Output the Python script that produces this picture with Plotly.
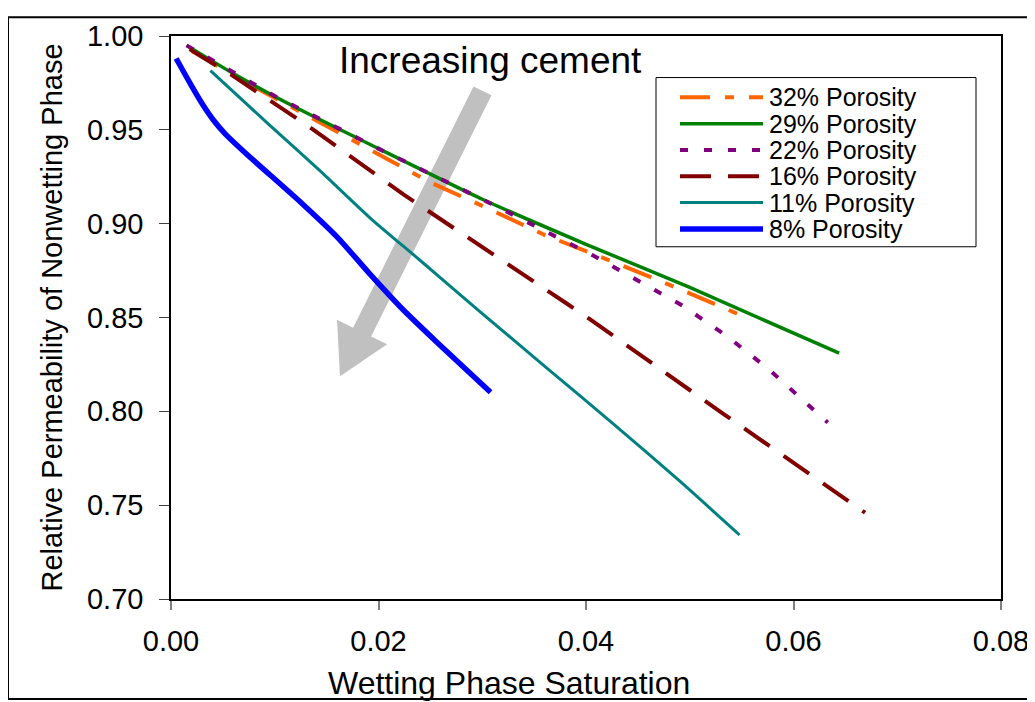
import plotly.graph_objects as go

# ---------------- data ----------------
x_range = [0.0, 0.08]
y_range = [0.70, 1.00]
x_ticks = [0.00, 0.02, 0.04, 0.06, 0.08]
y_ticks = [0.70, 0.75, 0.80, 0.85, 0.90, 0.95, 1.00]

x_title = "Wetting Phase Saturation"
y_title = "Relative Permeability of Nonwetting Phase"
arrow_label = "Increasing cement"

series_names = ["32% Porosity", "29% Porosity", "22% Porosity",
                "16% Porosity", "11% Porosity", "8% Porosity"]

sw_32 = [0.002, 0.008, 0.014, 0.020, 0.025, 0.030, 0.036, 0.042, 0.048, 0.0546]
kr_32 = [0.992, 0.973, 0.955, 0.937, 0.922, 0.9095, 0.894, 0.881, 0.8675, 0.852]

sw_29 = [0.0015, 0.006, 0.012, 0.020, 0.030, 0.040, 0.050, 0.0644]
kr_29 = [0.995, 0.980, 0.962, 0.940, 0.913, 0.889, 0.866, 0.831]

sw_22 = [0.0015, 0.010, 0.020, 0.030, 0.0407, 0.0452, 0.0494, 0.0536, 0.0577, 0.0633]
kr_22 = [0.995, 0.968, 0.940, 0.913, 0.883, 0.869, 0.856, 0.840, 0.822, 0.794]

sw_16 = [0.0018, 0.0059, 0.0131, 0.0224, 0.0381, 0.0404, 0.0532, 0.0555, 0.0669]
kr_16 = [0.993, 0.979, 0.9525, 0.9156, 0.8576, 0.849, 0.7988, 0.790, 0.746]

sw_11 = [0.0038, 0.0095, 0.0144, 0.0192, 0.0240, 0.0298, 0.0362, 0.0426, 0.0491, 0.0548]
kr_11 = [0.9815, 0.9525, 0.9280, 0.9030, 0.8805, 0.8530, 0.8232, 0.7935, 0.7625, 0.7341]

sw_8 = [0.0005, 0.0018, 0.0031, 0.0041, 0.0052, 0.0073, 0.0095, 0.0127,
        0.0160, 0.0192, 0.0224, 0.0256, 0.0308]
kr_8 = [0.988, 0.9752, 0.9631, 0.9551, 0.9480, 0.9370, 0.9262, 0.9104,
        0.8930, 0.8730, 0.8540, 0.8370, 0.8102]

series_x = [sw_32, sw_29, sw_22, sw_16, sw_11, sw_8]
series_y = [kr_32, kr_29, kr_22, kr_16, kr_11, kr_8]

# ---------------- styles ----------------
colors = ["#FF6600", "#008000", "#800080", "#800000", "#008080", "#0000FF"]
widths = [4, 3.5, 4, 4, 3, 5.5]
dashes = ["30px,15px,9px,15px", "solid", "8px,16px", "31px,17px", "solid", "solid"]
shapes_ln = ["linear", "spline", "linear", "linear", "spline", "spline"]

FONT = "Liberation Sans, Arial, sans-serif"

W, H = 1035, 702
# plot area in page (screen) pixels; the page body adds an 8px offset
OFF = 8
PL, PT, PR, PB = 171, 30, 1001, 599
ML, MT = PL - OFF, PT - OFF
PW, PH = PR - PL, PB - PT
MR = W - ML - PW
MB = H - MT - PH


def px_to_paper(px, py):
    return (px - PL) / PW, (PB - py) / PH


fig = go.Figure()
for xs, ys, name, c, w, d, s in zip(series_x, series_y, series_names, colors,
                                     widths, dashes, shapes_ln):
    fig.add_trace(go.Scatter(x=xs, y=ys, mode="lines", name=name,
                             line=dict(color=c, width=w, dash=d, shape=s, smoothing=0.6),
                             showlegend=False))

shapes = []
annotations = []

# grey arrow (drawn beneath the curves)
arrow_px = [(473.5, 81.1), (353.1, 324.8), (337.0, 316.8), (340.0, 374.0),
            (387.2, 341.6), (371.1, 333.6), (491.5, 89.9)]
pts = [px_to_paper(a, b) for a, b in arrow_px]
path = "M " + " L ".join(f"{p[0]:.5f},{p[1]:.5f}" for p in pts) + " Z"
shapes.append(dict(type="path", xref="paper", yref="paper", path=path,
                   fillcolor="#C0C0C0", line=dict(width=0), layer="below"))

ax_, ay_ = px_to_paper(490, 55)
annotations.append(dict(text=arrow_label, xref="paper", yref="paper",
                        x=ax_, y=ay_, xanchor="center", yanchor="middle", showarrow=False,
                        font=dict(family=FONT, size=37, color="black")))

# x-axis title (off-centre in the original)
tx_, ty_ = px_to_paper(509, 684)
annotations.append(dict(text=x_title, xref="paper", yref="paper",
                        x=tx_, y=ty_, xanchor="center", yanchor="middle", showarrow=False,
                        font=dict(family=FONT, size=32, color="black")))

# legend drawn by hand so its sample lines match the original length
lx0, ly0 = px_to_paper(656, 72)
lx1, ly1 = px_to_paper(976, 243)
shapes.append(dict(type="rect", xref="paper", yref="paper", x0=lx0, y0=ly1, x1=lx1, y1=ly0,
                   line=dict(color="black", width=1), fillcolor="white", layer="above"))
row0, row_step = 92, 26.6
for i, (name, c, w, d) in enumerate(zip(series_names, colors, widths, dashes)):
    yc = row0 + i * row_step
    sx0, sy = px_to_paper(680, yc)
    sx1, _ = px_to_paper(763, yc)
    line = dict(color=c, width=w)
    if d != "solid":
        line["dash"] = d
    shapes.append(dict(type="line", xref="paper", yref="paper", x0=sx0, x1=sx1,
                       y0=sy, y1=sy, line=line, layer="above"))
    tx, ty = px_to_paper(767, yc)
    annotations.append(dict(text=name, xref="paper", yref="paper", x=tx, y=ty,
                            xanchor="left", yanchor="middle", showarrow=False,
                            font=dict(family=FONT, size=25, color="black")))

# outer frame of the picture
fx0, fy0 = px_to_paper(8, 11)
fx1, fy1 = px_to_paper(1050, 700)
shapes.append(dict(type="rect", xref="paper", yref="paper", x0=fx0, y0=fy1, x1=fx1, y1=fy0,
                   line=dict(color="black", width=2), layer="above"))

fig.update_layout(
    width=W, height=H,
    margin=dict(l=ML, r=MR, t=MT, b=MB),
    paper_bgcolor="white", plot_bgcolor="white",
    font=dict(family=FONT, color="black"),
    shapes=shapes, annotations=annotations,
    showlegend=False,
)
fig.update_xaxes(range=x_range, tickvals=x_ticks, tickformat=".2f",
                 showgrid=False, zeroline=False,
                 showline=True, linecolor="black", linewidth=1.5, mirror=True,
                 ticks="outside", ticklen=9, tickcolor="#808080", tickwidth=1.5,
                 tickfont=dict(family=FONT, size=29, color="black"),
                 ticklabelstandoff=6)
fig.update_yaxes(range=y_range, tickvals=y_ticks, tickformat=".2f",
                 showgrid=False, zeroline=False,
                 showline=True, linecolor="black", linewidth=1.5, mirror=True,
                 ticks="outside", ticklen=10, tickcolor="#404040", tickwidth=1,
                 tickfont=dict(family=FONT, size=29, color="black"),
                 ticklabelstandoff=10,
                 title=dict(text=y_title, standoff=16,
                            font=dict(family=FONT, size=29, color="black")))

fig.write_html("out.html")
